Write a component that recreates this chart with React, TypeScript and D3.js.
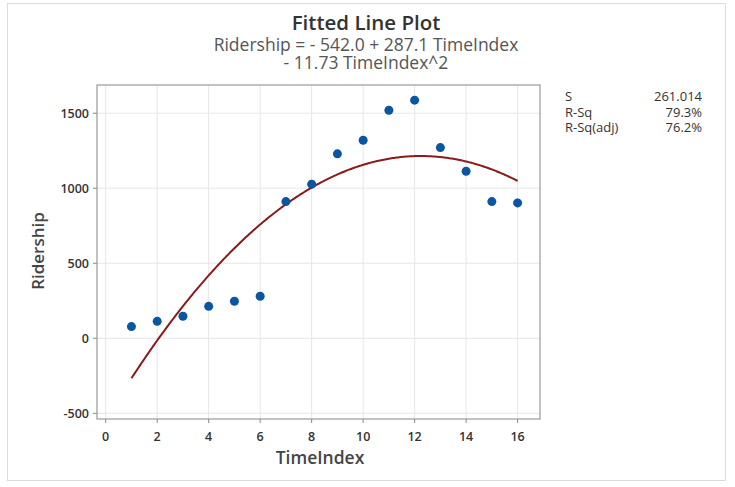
import React from "react";
import * as d3 from "d3";

const timeIndex = [1, 2, 3, 4, 5, 6, 7, 8, 9, 10, 11, 12, 13, 14, 15, 16];
const ridership = [78, 113, 147, 213, 247, 280, 911, 1027, 1229, 1320, 1520, 1587, 1271, 1113, 911, 902];
const coefficients = [-542.0, 287.1, -11.73];
const xTicks = [0, 2, 4, 6, 8, 10, 12, 14, 16];
const yTicks = [-500, 0, 500, 1000, 1500];
const statLabels = ["S", "R-Sq", "R-Sq(adj)"];
const statValues = ["261.014", "79.3%", "76.2%"];

const W = 735;
const H = 487;
const font = "'Open Sans', 'Noto Sans', sans-serif";

export default function App() {
  const left = 97, right = 540, top = 85, bottom = 419;
  const x = d3.scaleLinear().domain([-0.338, 16.87]).range([left, right]);
  const y = d3.scaleLinear().domain([-538, 1688]).range([bottom, top]);

  const fitX = d3.range(0, 301).map((i) => 1 + (15 * i) / 300);
  const fit = (t: number) => coefficients[0] + coefficients[1] * t + coefficients[2] * t * t;
  const line = d3
    .line<number>()
    .x((t) => x(t))
    .y((t) => y(fit(t)));

  return (
    <svg
      width={W}
      height={H}
      style={{ position: "absolute", left: 0, top: 0, background: "#fff" }}
      fontFamily={font}
    >
      <rect x={7.5} y={3.5} width={718} height={477} fill="#fff" stroke="#dcdcdc" />
      {/* title */}
      <text x={366} y={30} textAnchor="middle" fontSize={20.5} fontWeight={600} fill="#333">
        Fitted Line Plot
      </text>
      <text x={366} y={51} textAnchor="middle" fontSize={17.5} fill="#555">
        Ridership = - 542.0 + 287.1 TimeIndex
      </text>
      <text x={366} y={68.5} textAnchor="middle" fontSize={17.5} fill="#555">
        - 11.73 TimeIndex^2
      </text>

      {/* grid */}
      {xTicks.map((t) => (
        <line key={"gx" + t} x1={x(t)} x2={x(t)} y1={top} y2={bottom} stroke="#e6e6e6" />
      ))}
      {yTicks.map((t) => (
        <line key={"gy" + t} x1={left} x2={right} y1={y(t)} y2={y(t)} stroke="#e6e6e6" />
      ))}
      <rect x={left} y={top} width={right - left} height={bottom - top} fill="none" stroke="#999" strokeWidth={1.2} />

      {/* ticks */}
      {xTicks.map((t) => (
        <g key={"tx" + t}>
          <line x1={x(t)} x2={x(t)} y1={bottom} y2={bottom + 4} stroke="#888" />
          <text x={x(t)} y={441} textAnchor="middle" fontSize={12.5} fill="#333" fontWeight={600}>
            {t}
          </text>
        </g>
      ))}
      {yTicks.map((t) => (
        <g key={"ty" + t}>
          <line x1={left - 4} x2={left} y1={y(t)} y2={y(t)} stroke="#888" />
          <text x={89} y={y(t) + 4.5} textAnchor="end" fontSize={12.5} fill="#333" fontWeight={600}>
            {t}
          </text>
        </g>
      ))}

      {/* axis labels */}
      <text x={320} y={464} textAnchor="middle" fontSize={17.5} fontWeight={600} fill="#444">
        TimeIndex
      </text>
      <text
        transform={`translate(44, 251) rotate(-90)`}
        textAnchor="middle"
        fontSize={17}
        fontWeight={600}
        fill="#444"
      >
        Ridership
      </text>

      {/* fitted line */}
      <path d={line(fitX) || ""} fill="none" stroke="#8b1a1a" strokeWidth={2} />

      {/* points */}
      {timeIndex.map((t, i) => (
        <circle key={"p" + t} cx={x(t)} cy={y(ridership[i])} r={4.5} fill="#0a56a0" />
      ))}

      {/* stats */}
      {statLabels.map((s, i) => (
        <g key={s}>
          <text x={565} y={101 + i * 15.5} fontSize={13} fill="#333">
            {s}
          </text>
          <text x={702} y={101 + i * 15.5} textAnchor="end" fontSize={13} fill="#333">
            {statValues[i]}
          </text>
        </g>
      ))}
    </svg>
  );
}
